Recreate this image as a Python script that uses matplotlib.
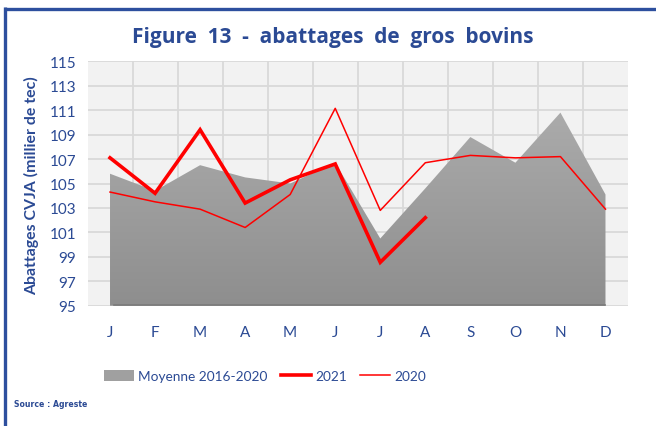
import matplotlib
matplotlib.use("Agg")
import matplotlib.pyplot as plt
import numpy as np
from matplotlib.lines import Line2D
from matplotlib.patches import Patch
from matplotlib.colors import LinearSegmentedColormap

months = ["J", "F", "M", "A", "M", "J", "J", "A", "S", "O", "N", "D"]
moyenne = [105.8, 104.4, 106.5, 105.5, 105.0, 106.7, 100.5, 104.6, 108.8, 106.7, 110.8, 104.1]
y2021 = [107.1, 104.2, 109.4, 103.4, 105.3, 106.6, 98.55, 102.2]
y2020 = [104.3, 103.5, 102.9, 101.4, 104.1, 111.15, 102.8, 106.7, 107.3, 107.1, 107.2, 102.9]
yticks = list(range(95, 116, 2))

BLUE = "#2d4f9e"
TXT = "#2b4a94"
plt.rcParams['font.family'] = ['Lato', 'DejaVu Sans']

fig = plt.figure(figsize=(6.56, 4.27), dpi=100)
ax = fig.add_axes([87.5/656, 1-306.7/427, (628-87.5)/656, (306.7-62.3)/427])
ax.set_facecolor("#f2f2f2")

x = np.arange(len(months))
ymin, ymax = 95, 115
ax.set_xlim(-0.5, 11.5)
ax.set_ylim(ymin, ymax)

# area with gradient
poly = ax.fill_between(x, ymin, moyenne, color="none", lw=0, zorder=2)
grad = np.linspace(0, 1, 256).reshape(-1, 1)
cmap = LinearSegmentedColormap.from_list("g", ["#8e8e8e", "#ababab"])
im = ax.imshow(grad, cmap=cmap, aspect="auto", origin="lower",
               extent=[x[0], x[-1], ymin, max(moyenne)], zorder=2)
im.set_clip_path(poly.get_paths()[0], transform=ax.transData)
ax.plot([x[0] + 0.08, x[-1]], [ymin + 0.05, ymin + 0.05], color="#7a7a7a", lw=1.2, zorder=3)

ax.plot(x[:len(y2021)], y2021, color="#ff0000", lw=2.6, zorder=5, solid_joinstyle="miter")
ax.plot(x, y2020, color="#ff0000", lw=1.1, zorder=4)

ax.set_yticks(yticks)
ax.set_xticks(x)
ax.set_xticklabels(months)
ax.set_xticks(np.arange(0.5, 11, 1), minor=True)
ax.grid(axis="y", which="major", color="#d9d9d9", lw=1.3, zorder=1)
ax.grid(axis="x", which="minor", color="#d9d9d9", lw=1.3, zorder=1)
ax.tick_params(axis="both", which="both", length=0)
ax.tick_params(axis="y", labelsize=11, labelcolor=TXT, pad=8)
ax.tick_params(axis="x", labelsize=11, labelcolor=TXT, pad=14)
for s in ax.spines.values():
    s.set_visible(False)

ax.set_ylabel("Abattages CVJA (millier de tec)", fontsize=11.4, fontweight="bold",
              color=TXT)
ax.yaxis.set_label_coords(-0.09, 0.497)

fig.text(333/656, 1-38/427, "Figure  13  -  abattages  de  gros  bovins", ha="center", va="center",
         fontsize=15, fontweight="bold", color=TXT, family=["Open Sans", "DejaVu Sans"])

handles = [Patch(facecolor="#a0a0a0", edgecolor="none"),
           Line2D([0], [0], color="#ff0000", lw=2.6),
           Line2D([0], [0], color="#ff0000", lw=1.1)]
leg = fig.legend(handles, ["Moyenne 2016-2020", "2021", "2020"], loc="center",
                 bbox_to_anchor=(265/656, 1-377/427), ncol=3, frameon=False,
                 fontsize=9.8, handlelength=2.2, handleheight=0.9, columnspacing=1.0,
                 handletextpad=0.3)
for t in leg.get_texts():
    t.set_color(TXT)

fig.text(14/656, 1-405/427, "Source : Agreste", ha="left", va="center", fontsize=6.2,
         fontweight="bold", color=TXT, family=["Liberation Sans Narrow", "DejaVu Sans"],
         fontstretch="condensed")

# frame
fig.add_artist(Line2D([4.5/656, 4.5/656], [0, 1-8/427], color=BLUE, lw=2.4,
                      transform=fig.transFigure, solid_capstyle="butt"))
fig.add_artist(Line2D([3.5/656, 1], [1-9.5/427, 1-9.5/427], color=BLUE, lw=2.4,
                      transform=fig.transFigure, solid_capstyle="butt"))

fig.savefig("out.png", dpi=100)
